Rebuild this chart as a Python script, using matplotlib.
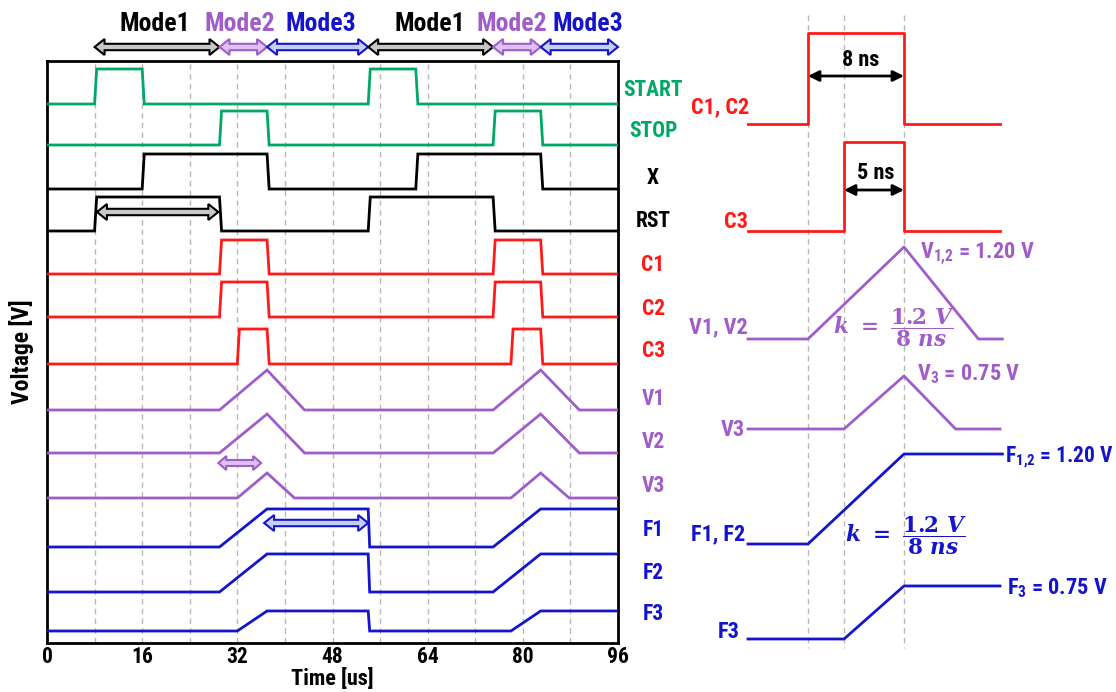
import matplotlib
matplotlib.use("Agg")
import matplotlib.pyplot as plt
from matplotlib.patches import Polygon
from matplotlib.transforms import IdentityTransform

# ---------------- data (left panel, time in us) ----------------
mode_names = ["Mode1", "Mode2", "Mode3", "Mode1", "Mode2", "Mode3"]
mode_bounds = [8, 29, 37, 54, 75, 83, 96]
mode_text_t = [18.1, 32.5, 46.1, 64.3, 78.2, 90.9]

channels = ["START", "STOP", "X", "RST", "C1", "C2", "C3",
            "V1", "V2", "V3", "F1", "F2", "F3"]

START_pulses = [(8, 16), (54, 62)]
STOP_pulses = [(29, 37), (75, 83)]
X_pulses = [(16, 37), (62, 83)]
RST_pulses = [(8, 29), (54, 75)]
C1_pulses = [(29, 37), (75, 83)]
C2_pulses = [(29, 37), (75, 83)]
C3_pulses = [(32, 37), (78, 83)]

V1_t = [0, 29, 37, 43.3, 75, 83, 89.5, 96]
V1_v = [0, 0, 1.2, 0, 0, 1.2, 0, 0]
V2_t = [0, 29, 37, 43.3, 75, 83, 89.5, 96]
V2_v = [0, 0, 1.2, 0, 0, 1.2, 0, 0]
V3_t = [0, 32, 37, 41.6, 78, 83, 87.8, 96]
V3_v = [0, 0, 0.75, 0, 0, 0.75, 0, 0]
F1_t = [0, 29, 37, 54, 54.25, 75, 83, 96]
F1_v = [0, 0, 1.2, 1.2, 0, 0, 1.2, 1.2]
F2_t = [0, 29, 37, 54, 54.25, 75, 83, 96]
F2_v = [0, 0, 1.2, 1.2, 0, 0, 1.2, 1.2]
F3_t = [0, 32, 37, 54, 54.25, 78, 83, 96]
F3_v = [0, 0, 0.75, 0.75, 0, 0, 0.75, 0.75]

x_ticks = [0, 16, 32, 48, 64, 80, 96]
grid_t = [8, 16, 24, 32, 40, 48, 56, 64, 72, 80, 88]

# inner annotation arrows (us)
rst_arrow = (8.4, 28.8)
v3_arrow = (28.8, 36.0)
f1_arrow = (36.5, 54.0)

# ---------------- data (right panel, time in ns) ----------------
r_span = (-5, 16)
r_C12_pulse = (0, 8)
r_C3_pulse = (3, 8)
r_V12_t = [-5, 0, 8, 14.2, 16.2]
r_V12_v = [0, 0, 1.2, 0, 0]
r_V3_t = [-5, 3, 8, 12.3, 16]
r_V3_v = [0, 0, 0.75, 0, 0]
r_F12_t = [-5, 0, 8, 16.2]
r_F12_v = [0, 0, 1.2, 1.2]
r_F3_t = [-5, 3, 8, 16]
r_F3_v = [0, 0, 0.75, 0.75]
r_marks = [0, 3, 8]

# ---------------- style ----------------
GREEN = "#00a865"
RED = "#ff1a1a"
PURPLE = "#a05cc8"
BLUE = "#1414cc"
FONT = ["Roboto Condensed", "Liberation Sans Narrow", "Liberation Sans"]

plt.rcParams["font.family"] = FONT
plt.rcParams["font.weight"] = "bold"
plt.rcParams["mathtext.fontset"] = "custom"
plt.rcParams["mathtext.rm"] = "DejaVu Serif:bold"
plt.rcParams["mathtext.it"] = "DejaVu Serif:italic:bold"
plt.rcParams["mathtext.bf"] = "DejaVu Serif:bold"

W, H = 1116, 692
fig = plt.figure(figsize=(W / 100, H / 100), dpi=100)

L, R, T, B = 47, 618, 61, 643
ax = fig.add_axes([L / W, 1 - B / H, (R - L) / W, (B - T) / H])
ax.set_xlim(0, 96)
ax.set_ylim(B, T)  # pixel-like vertical units, inverted


def pulses_to_wave(pulses, t0=0, t1=96, e=0.35):
    t, v = [t0], [0]
    for on, off in pulses:
        t += [on, on + e, off, off + e]
        v += [0, 1, 1, 0]
    t.append(t1)
    v.append(0)
    return t, v


# layout: (baseline y, px per unit, colour, label y)
layout = {
    "START": (104, 35, GREEN, 90),
    "STOP": (145, 34, GREEN, 131),
    "X": (189, 35, "black", 178),
    "RST": (231, 34, "black", 221),
    "C1": (274, 34, RED, 265),
    "C2": (317, 35, RED, 309),
    "C3": (364, 35, RED, 351),
    "V1": (410, 33.3, PURPLE, 399),
    "V2": (453, 32.5, PURPLE, 442),
    "V3": (498, 33.3, PURPLE, 486),
    "F1": (547, 31.7, BLUE, 530),
    "F2": (592, 31.7, BLUE, 573),
    "F3": (631, 26.7, BLUE, 614),
}

waves = {
    "START": pulses_to_wave(START_pulses),
    "STOP": pulses_to_wave(STOP_pulses),
    "X": pulses_to_wave(X_pulses),
    "RST": pulses_to_wave(RST_pulses),
    "C1": pulses_to_wave(C1_pulses),
    "C2": pulses_to_wave(C2_pulses),
    "C3": pulses_to_wave(C3_pulses),
    "V1": (V1_t, V1_v),
    "V2": (V2_t, V2_v),
    "V3": (V3_t, V3_v),
    "F1": (F1_t, F1_v),
    "F2": (F2_t, F2_v),
    "F3": (F3_t, F3_v),
}

for g in grid_t:
    ax.axvline(g, color="#b8b8b8", lw=1.0, ls=(0, (4, 3)), zorder=1)

lab_x = 101.9
for name in channels:
    base, sc, col, ly = layout[name]
    t, v = waves[name]
    ax.plot(t, [base - sc * vv for vv in v], color=col, lw=2.0, zorder=3,
            solid_joinstyle="miter")
    ax.text(lab_x, ly, name, color=col, fontsize=15.5, ha="center", va="center",
            fontweight="bold", clip_on=False)

for s in ax.spines.values():
    s.set_linewidth(2.0)
ax.set_yticks([])
ax.set_xticks(x_ticks)
ax.set_xticklabels([str(x) for x in x_ticks], fontsize=15.5, fontweight="bold")
ax.tick_params(axis="x", length=0, pad=2)
ax.set_xlabel("Time [us]", fontsize=16, fontweight="bold", labelpad=0)
ax.set_ylabel("Voltage [V]", fontsize=17, fontweight="bold", labelpad=9)

fig.canvas.draw()


def block_arrow(a, t0, t1, y, face, edge, shaft=3.2, head=8.0, hlen=10.0, lw=1.5):
    x0, yy = a.transData.transform((t0, y))
    x1, _ = a.transData.transform((t1, y))
    pts = [(x0, yy), (x0 + hlen, yy + head), (x0 + hlen, yy + shaft),
           (x1 - hlen, yy + shaft), (x1 - hlen, yy + head), (x1, yy),
           (x1 - hlen, yy - head), (x1 - hlen, yy - shaft),
           (x0 + hlen, yy - shaft), (x0 + hlen, yy - head)]
    p = Polygon(pts, closed=True, transform=IdentityTransform(), facecolor=face,
                edgecolor=edge, lw=lw, clip_on=False, zorder=6)
    fig.add_artist(p)


mode_style = {
    "Mode1": ("#c8c8c8", "black"),
    "Mode2": ("#dcc2ee", PURPLE),
    "Mode3": ("#c4d0f2", BLUE),
}
for i, name in enumerate(mode_names):
    face, edge = mode_style[name]
    block_arrow(ax, mode_bounds[i], mode_bounds[i + 1], 47, face, edge)
    ax.text(mode_text_t[i], 24, name, color=edge,
            fontsize=18.5, ha="center", va="center", fontweight="bold", clip_on=False)

block_arrow(ax, rst_arrow[0], rst_arrow[1], 212, "#c8c8c8", "black")
block_arrow(ax, v3_arrow[0], v3_arrow[1], 463, "#dcc2ee", PURPLE, shaft=3.0, head=7.0, hlen=8.0)
block_arrow(ax, f1_arrow[0], f1_arrow[1], 523, "#c4d0f2", BLUE)

# ---------------- right panel ----------------
RX0 = 640
axr = fig.add_axes([RX0 / W, 0, (W - RX0) / W, 1])
axr.set_xlim(-14, (W - 808) / 12)
axr.set_ylim(H, 0)
axr.axis("off")

axr.vlines(r_marks, 15, 648, colors="#b8b8b8", lw=1.0, linestyles=(0, (4, 3)), zorder=1)


def pulse_wave(p, span):
    return [span[0], p[0], p[0], p[1], p[1], span[1]], [0, 0, 1, 1, 0, 0]


r_layout = [
    (pulse_wave(r_C12_pulse, r_span), 124, 91, RED),
    (pulse_wave(r_C3_pulse, r_span), 231, 89, RED),
    ((r_V12_t, r_V12_v), 339, 76.7, PURPLE),
    ((r_V3_t, r_V3_v), 429, 70.7, PURPLE),
    ((r_F12_t, r_F12_v), 544, 75.0, BLUE),
    ((r_F3_t, r_F3_v), 639, 70.7, BLUE),
]
for (t, v), base, sc, col in r_layout:
    axr.plot(t, [base - sc * vv for vv in v], color=col, lw=2.0, zorder=3)

fs = 16
axr.text(-4.9, 107, "C1, C2", color=RED, fontsize=fs, ha="right", va="center")
axr.text(-5.0, 222, "C3", color=RED, fontsize=fs, ha="right", va="center")
axr.text(-5.05, 327, "V1, V2", color=PURPLE, fontsize=fs, ha="right", va="center")
axr.text(-5.25, 430, "V3", color=PURPLE, fontsize=fs, ha="right", va="center")
axr.text(-5.25, 534, "F1, F2", color=BLUE, fontsize=fs, ha="right", va="center")
axr.text(-5.7, 632, "F3", color=BLUE, fontsize=fs, ha="right", va="center")

axr.text(4.35, 60, "8 ns", color="black", fontsize=fs, ha="center", va="center")
axr.text(5.6, 173, "5 ns", color="black", fontsize=fs, ha="center", va="center")
arrow_kw = dict(arrowstyle="<|-|>", color="black", lw=2.0, mutation_scale=16,
                shrinkA=0, shrinkB=0)
axr.annotate("", xy=(r_C12_pulse[1], 76), xytext=(r_C12_pulse[0], 76), arrowprops=arrow_kw)
axr.annotate("", xy=(r_C3_pulse[1], 190), xytext=(r_C3_pulse[0], 190), arrowprops=arrow_kw)

axr.text(9.3, 254, r"V$_{\mathregular{1{,}2}}$ = 1.20 V", color=PURPLE, fontsize=fs,
         ha="left", va="center")
axr.text(9.1, 374, r"V$_{\mathregular{3}}$ = 0.75 V", color=PURPLE, fontsize=fs,
         ha="left", va="center")
axr.text(16.4, 457, r"F$_{\mathregular{1{,}2}}$ = 1.20 V", color=BLUE, fontsize=15.5,
         ha="left", va="center")
axr.text(16.6, 588, r"F$_{\mathregular{3}}$ = 0.75 V", color=BLUE, fontsize=fs,
         ha="left", va="center")

k_expr = r"$k\ =\ \dfrac{1.2\ V}{8\ ns}$"
axr.text(7.2, 328, k_expr, color=PURPLE, fontsize=15.5, ha="center", va="center")
axr.text(8.2, 536, k_expr, color=BLUE, fontsize=15.5, ha="center", va="center")

fig.savefig("out.png", dpi=100)
